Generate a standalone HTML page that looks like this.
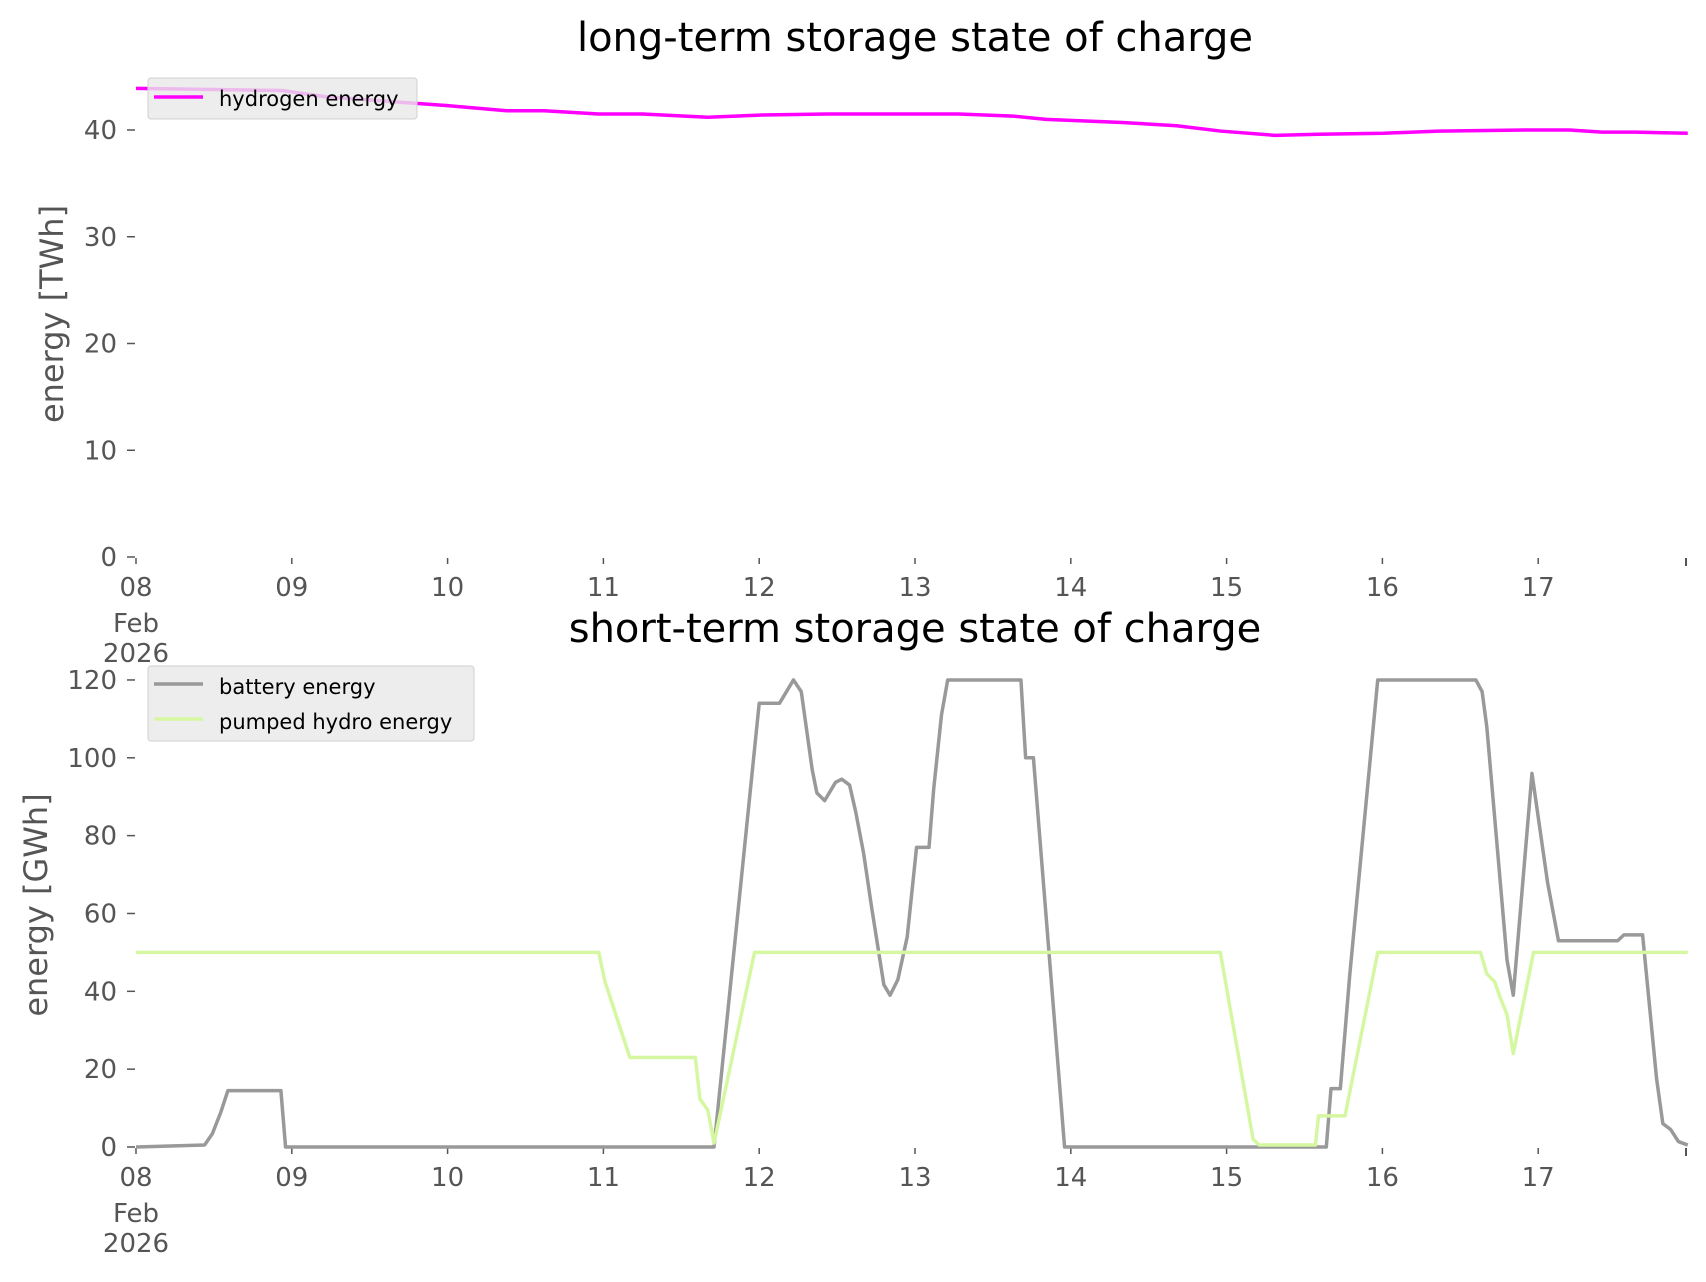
<!DOCTYPE html>
<html><head><meta charset="utf-8"><style>
html,body{margin:0;padding:0;background:#fff;}
svg text{font-family:"DejaVu Sans","Liberation Sans",sans-serif;}
</style></head><body>
<svg id="s" width="1706" height="1277" xmlns="http://www.w3.org/2000/svg">
<rect width="1706" height="1277" fill="#fff"/>
<text x="915" y="51" font-size="40" text-anchor="middle" fill="#000">long-term storage state of charge</text>
<text x="915" y="642" font-size="40" text-anchor="middle" fill="#000">short-term storage state of charge</text>
<text transform="translate(63,314) rotate(-90)" font-size="32" text-anchor="middle" fill="#555">energy [TWh]</text>
<text transform="translate(47,905) rotate(-90)" font-size="32" text-anchor="middle" fill="#555">energy [GWh]</text>
<g id="ticks" fill="#555" font-size="26"></g>
<g id="lines" fill="none" stroke-width="3.5" stroke-linejoin="round"></g>
<g id="leg"></g>
</svg>
<script>
const NS="http://www.w3.org/2000/svg";
function el(p,t,a,txt){const e=document.createElementNS(NS,t);for(const k in a)e.setAttribute(k,a[k]);if(txt!==undefined)e.textContent=txt;p.appendChild(e);return e;}
const X=d=>136+d*155.8, YT=v=>557-v*10.675, YB=v=>1147-v*3.892;
const T=document.getElementById('ticks'),L=document.getElementById('lines'),G=document.getElementById('leg');
[0,10,20,30,40].forEach(v=>{const y=YT(v);el(T,'line',{x1:127,x2:135,y1:y,y2:y,stroke:'#555','stroke-width':1.5});el(T,'text',{x:117,y:y+9,'text-anchor':'end'},v);});
[0,20,40,60,80,100,120].forEach(v=>{const y=YB(v);el(T,'line',{x1:127,x2:135,y1:y,y2:y,stroke:'#555','stroke-width':1.5});el(T,'text',{x:117,y:y+9,'text-anchor':'end'},v);});
[557,1147].forEach(y0=>{
 for(let i=0;i<10;i++){const x=X(i);el(T,'line',{x1:x,x2:x,y1:y0+1,y2:y0+7,stroke:'#555','stroke-width':1.5});
  el(T,'text',{x:x,y:y0+39,'text-anchor':'middle'},String(8+i).padStart(2,'0'));}
 el(T,'line',{x1:1686,x2:1686,y1:y0+1,y2:y0+9,stroke:'#555','stroke-width':2});
 el(T,'text',{x:X(0),y:y0+75,'text-anchor':'middle'},'Feb');
 el(T,'text',{x:X(0),y:y0+105,'text-anchor':'middle'},'2026');
});
function pl(pts,Y,c){el(L,'polyline',{points:pts.map(p=>X(p[0])+','+Y(p[1])).join(' '),stroke:c});}
const H=[[0,43.9],[0.94,43.7],[1.22,43.1],[1.99,42.3],[2.38,41.8],[2.62,41.8],[2.97,41.5],[3.25,41.5],[3.67,41.2],[4.02,41.4],[4.44,41.5],[5.28,41.5],[5.63,41.3],[5.84,41.0],[6.33,40.7],[6.68,40.4],[6.96,39.9],[7.31,39.5],[7.59,39.6],[8.01,39.7],[8.36,39.9],[8.92,40.0],[9.2,40.0],[9.41,39.8],[9.62,39.8],[9.96,39.7]];
const B=[[0,0],[0.44,0.5],[0.49,3.4],[0.545,9],[0.59,14.5],[0.93,14.5],[0.96,0],[3.71,0],[4.0,114],[4.13,114],[4.22,120],[4.27,117],[4.34,97],[4.37,91],[4.42,89],[4.49,93.7],[4.53,94.5],[4.58,93],[4.62,86],[4.67,75.5],[4.72,62],[4.8,41.7],[4.84,39],[4.89,43],[4.95,54],[5.01,77],[5.09,77],[5.12,92],[5.17,111],[5.21,120],[5.68,120],[5.71,100],[5.76,100],[5.96,0],[7.64,0],[7.67,15],[7.73,15],[7.79,44],[7.97,120],[8.6,120],[8.64,117],[8.67,108],[8.8,48],[8.84,39],[8.96,96],[9.06,68],[9.13,53],[9.51,53],[9.55,54.5],[9.67,54.5],[9.76,17.5],[9.8,6],[9.85,4.5],[9.9,1.4],[9.96,0.5]];
const P=[[0,50],[2.97,50],[3.01,42.5],[3.17,23],[3.59,23],[3.62,12.3],[3.67,9.5],[3.71,1],[3.97,50],[6.96,50],[7.17,2],[7.21,0.5],[7.57,0.5],[7.59,8],[7.76,8],[7.97,50],[8.63,50],[8.67,44.5],[8.72,42.5],[8.76,38],[8.8,34],[8.84,24],[8.97,50],[9.96,50]];
pl(H,YT,'#ff00ff');pl(B,YB,'#999999');pl(P,YB,'#d6f7a2');
el(G,'rect',{x:148,y:78,width:269,height:41,rx:3,fill:'#e8e8e8','fill-opacity':0.8,stroke:'#d0d0d0'});
el(G,'line',{x1:154,x2:203,y1:97,y2:97,stroke:'#ff00ff','stroke-width':3.5});
el(G,'text',{x:219,y:106,'font-size':21,fill:'#000'},'hydrogen energy');
el(G,'rect',{x:148,y:666,width:326,height:75,rx:3,fill:'#e8e8e8','fill-opacity':0.8,stroke:'#d0d0d0'});
el(G,'line',{x1:154,x2:203,y1:684,y2:684,stroke:'#999','stroke-width':3.5});
el(G,'text',{x:219,y:694,'font-size':21,fill:'#000'},'battery energy');
el(G,'line',{x1:154,x2:203,y1:719,y2:719,stroke:'#d6f7a2','stroke-width':3.5});
el(G,'text',{x:219,y:729,'font-size':21,fill:'#000'},'pumped hydro energy');
</script>
</body></html>
